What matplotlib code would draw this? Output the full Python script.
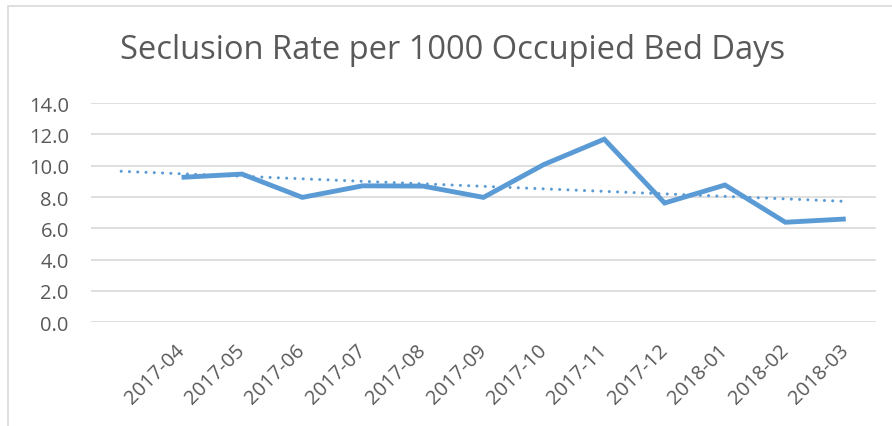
import numpy as np
import matplotlib
matplotlib.use("Agg")
import matplotlib.pyplot as plt
from matplotlib.patches import Rectangle

# ============================================================
# Data (first category is blank in the source chart)
# ============================================================

months = ["", "2017-04", "2017-05", "2017-06", "2017-07", "2017-08", "2017-09",
          "2017-10", "2017-11", "2017-12", "2018-01", "2018-02", "2018-03"]
rates = [np.nan, 9.26, 9.47, 7.98, 8.72, 8.70, 7.98,
         10.08, 11.70, 7.62, 8.77, 6.39, 6.60]

y_ticks = [0, 2, 4, 6, 8, 10, 12, 14]

# ============================================================
# Plot settings
# ============================================================

plt.rcParams["font.family"] = ["Open Sans", "DejaVu Sans"]
text_color = "#595959"
line_color = "#5B9BD5"
grid_color = "#D9D9D9"

x = np.arange(len(months))
y = np.array(rates, dtype=float)

# linear trendline over the valid points, drawn across all categories
valid = ~np.isnan(y)
slope, intercept = np.polyfit(x[valid], y[valid], 1)
trend = slope * x + intercept

fig = plt.figure(figsize=(8.92, 4.27), dpi=100)
ax = fig.add_axes([0.102, 0.243, 0.880, 0.513])

ax.plot(x, y, color=line_color, linewidth=3.5, solid_joinstyle="miter",
        solid_capstyle="butt", zorder=3)
ax.plot(x, trend, color=line_color, linewidth=2.2, linestyle=(0, (0.01, 2.7)),
        dash_capstyle="round", zorder=2)

ax.set_xlim(-0.5, len(months) - 0.5)
ax.set_ylim(0, 14)
ax.set_yticks(y_ticks)
ax.set_yticklabels([f"{v:.1f}" for v in y_ticks])
ax.set_xticks(x)
ax.set_xticklabels(months, rotation=45, ha="right", va="center",
                   rotation_mode="anchor")

ax.tick_params(axis="both", length=0, colors=text_color, labelsize=14.5)
ax.tick_params(axis="x", pad=18)
ax.tick_params(axis="y", pad=16)

ax.grid(axis="y", color=grid_color, linewidth=1.2)
ax.set_axisbelow(True)
for s in ax.spines.values():
    s.set_visible(False)

fig.text(0.507, 0.882, "Seclusion Rate per 1000 Occupied Bed Days",
         ha="center", va="center", fontsize=23.5, color=text_color)

# chart area border
fig.patches.append(Rectangle((8 / 892, -0.1), 1.2, 1.1 - 7 / 427,
                             transform=fig.transFigure, fill=False,
                             edgecolor=grid_color, linewidth=1.2))

fig.savefig("out.png", dpi=100)
